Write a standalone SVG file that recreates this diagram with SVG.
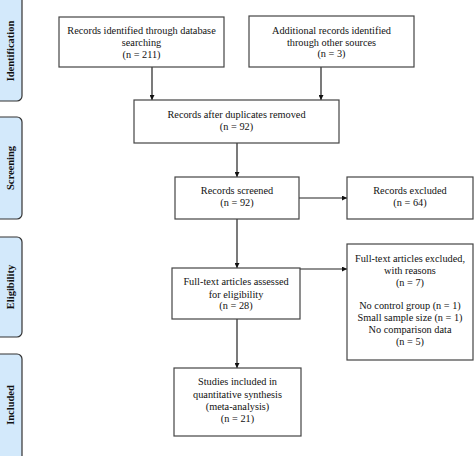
<svg xmlns="http://www.w3.org/2000/svg" width="474" height="456" viewBox="0 0 474 456">
<style>
.box{fill:#fff;stroke:#444;stroke-width:1.2}
.bar{fill:#d3e9fb;stroke:#333;stroke-width:1.2}
.t{font-size:10.3px;fill:#111;text-anchor:middle}
.s{font-size:10.5px;font-weight:bold;fill:#111;text-anchor:middle}
.c{stroke:#222;stroke-width:1.2;fill:none;marker-end:url(#ah)}
</style>
<defs>
<marker id="ah" viewBox="0 0 10 10" refX="10" refY="5" markerWidth="5" markerHeight="5" markerUnits="userSpaceOnUse" orient="auto">
<path d="M0,0 L10,5 L0,10 z" fill="#111"/>
</marker>
</defs>
<g id="stages" font-family="'Liberation Serif', 'DejaVu Serif', serif">
<g id="stage-identification"><rect class="bar" x="-10" y="-6" width="32" height="107" rx="5"/><text class="s" transform="translate(14,51) rotate(-90)">Identification</text></g>
<g id="stage-screening"><rect class="bar" x="-10" y="117" width="32" height="102" rx="5"/><text class="s" transform="translate(14,168) rotate(-90)">Screening</text></g>
<g id="stage-eligibility"><rect class="bar" x="-10" y="237" width="32" height="100" rx="5"/><text class="s" transform="translate(14,287) rotate(-90)">Eligibility</text></g>
<g id="stage-included"><rect class="bar" x="-10" y="354" width="32" height="108" rx="5"/><text class="s" transform="translate(14,405) rotate(-90)">Included</text></g>
</g>
<g id="connectors">
<line class="c" x1="152" y1="67" x2="152" y2="100"/>
<line class="c" x1="321" y1="67" x2="321" y2="100"/>
<line class="c" x1="237" y1="143" x2="237" y2="177"/>
<line class="c" x1="299" y1="198" x2="347" y2="198"/>
<line class="c" x1="237" y1="219" x2="237" y2="268"/>
<line class="c" x1="300" y1="269" x2="347" y2="269"/>
<line class="c" x1="237" y1="319" x2="237" y2="368"/>
</g>
<g id="nodes" font-family="'Liberation Serif', 'DejaVu Serif', serif">
<g id="n1"><rect class="box" x="59" y="17" width="165" height="50"/>
<text class="t" x="141.5" y="34">Records identified through database</text>
<text class="t" x="141.5" y="46">searching</text>
<text class="t" x="141.5" y="58">(n = 211)</text></g>
<g id="n2"><rect class="box" x="249" y="16" width="165" height="51"/>
<text class="t" x="331.5" y="33.5">Additional records identified</text>
<text class="t" x="331.5" y="45.5">through other sources</text>
<text class="t" x="331.5" y="57">(n = 3)</text></g>
<g id="n3"><rect class="box" x="134" y="100" width="205" height="43"/>
<text class="t" x="236.5" y="118">Records after duplicates removed</text>
<text class="t" x="236.5" y="130">(n = 92)</text></g>
<g id="n4"><rect class="box" x="175" y="177" width="124" height="42"/>
<text class="t" x="237" y="193.5">Records screened</text>
<text class="t" x="237" y="206">(n = 92)</text></g>
<g id="n5"><rect class="box" x="347" y="177" width="126" height="42"/>
<text class="t" x="410" y="193.5">Records excluded</text>
<text class="t" x="410" y="206">(n = 64)</text></g>
<g id="n6"><rect class="box" x="172" y="268" width="128" height="51"/>
<text class="t" x="236" y="285">Full-text articles assessed</text>
<text class="t" x="236" y="297.5">for eligibility</text>
<text class="t" x="236" y="309">(n = 28)</text></g>
<g id="n7"><rect class="box" x="347" y="244" width="126" height="116"/>
<text class="t" x="410" y="262">Full-text articles excluded,</text>
<text class="t" x="410" y="273.5">with reasons</text>
<text class="t" x="410" y="285.5">(n = 7)</text>
<text class="t" x="410" y="308.5">No control group (n = 1)</text>
<text class="t" x="410" y="320.5">Small sample size (n = 1)</text>
<text class="t" x="410" y="332.5">No comparison data</text>
<text class="t" x="410" y="345">(n = 5)</text></g>
<g id="n8"><rect class="box" x="174" y="368" width="127" height="68"/>
<text class="t" x="237.5" y="385">Studies included in</text>
<text class="t" x="237.5" y="397.5">quantitative synthesis</text>
<text class="t" x="237.5" y="409.5">(meta-analysis)</text>
<text class="t" x="237.5" y="421.5">(n = 21)</text></g>
</g>
</svg>
